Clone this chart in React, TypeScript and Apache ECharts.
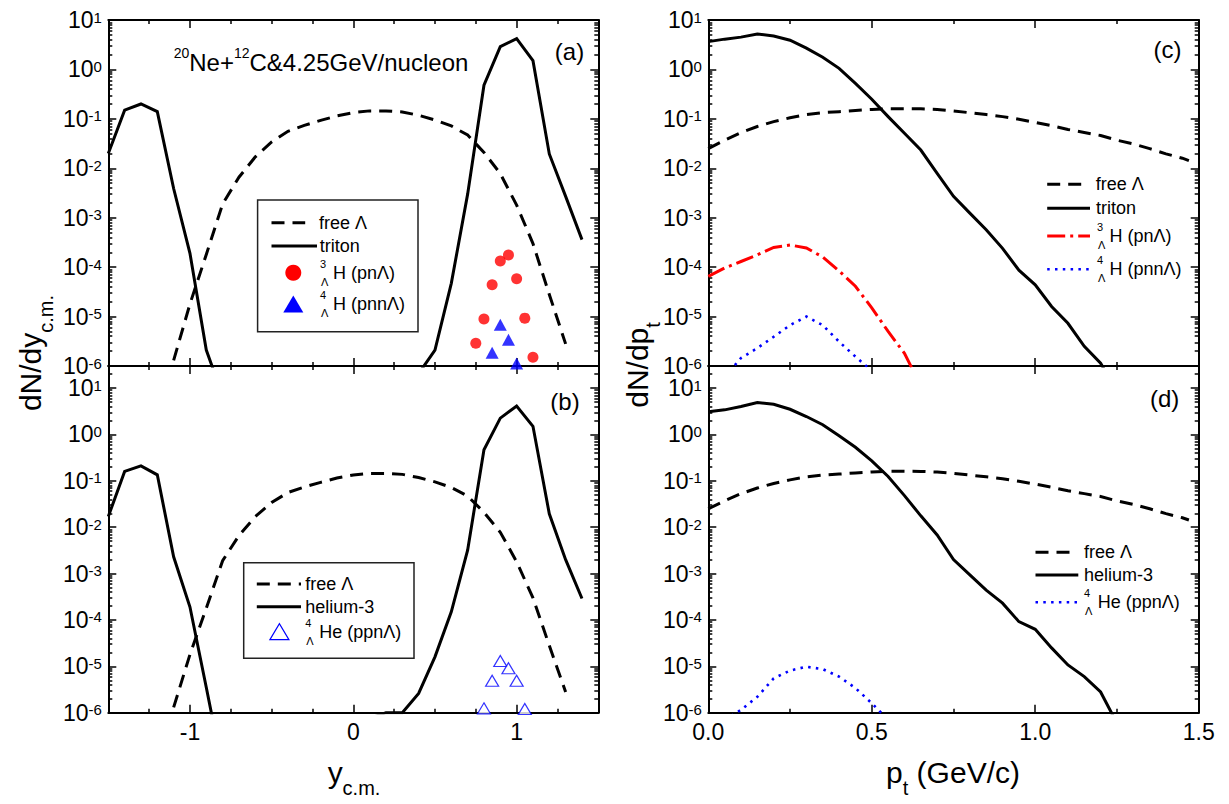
import { useEffect, useRef } from "react";
import * as echarts from "echarts";

const FONT = '"Liberation Sans", Arial, Helvetica, sans-serif';

// ---------- Panel (a)/(b): rapidity distributions ----------
const rapFreeLambda = [-1.1, -1.0, -0.9, -0.8, -0.7, -0.6, -0.5, -0.4, -0.3, -0.2, -0.1, 0, 0.1, 0.2, 0.3, 0.4, 0.5, 0.6, 0.7, 0.8, 0.9, 1.0, 1.1, 1.2, 1.3];
const dndyFreeLambda = [1.3e-6, 1.8e-5, 1.8e-4, 1.9e-3, 6.6e-3, 0.017, 0.034, 0.056, 0.074, 0.093, 0.115, 0.134, 0.145, 0.145, 0.138, 0.118, 0.095, 0.072, 0.047, 0.021, 0.0078, 1.8e-3, 3e-4, 2.8e-5, 2.8e-6];

const rapTriton = [-1.5, -1.4, -1.3, -1.2, -1.1, -1.0, -0.9, -0.8, 0.4, 0.5, 0.6, 0.7, 0.8, 0.9, 1.0, 1.1, 1.2, 1.3, 1.4];
const dndyTriton = [0.02, 0.15, 0.2, 0.14, 0.0039, 1.9e-4, 2.1e-6, 2.5e-7, 7e-7, 2.1e-6, 4.7e-5, 3e-3, 0.48, 2.9, 4.2, 1.5, 0.0195, 2.7e-3, 3.6e-4];

const rapHelium3 = [-1.5, -1.4, -1.3, -1.2, -1.1, -1.0, -0.9, -0.8, 0.2, 0.3, 0.4, 0.5, 0.6, 0.7, 0.8, 0.9, 1.0, 1.1, 1.2, 1.3, 1.4];
const dndyHelium3 = [0.017, 0.16, 0.21, 0.135, 2.3e-3, 1.9e-4, 3.5e-6, 6e-8, 1e-6, 1e-6, 2.6e-6, 1.6e-5, 1.5e-4, 3.2e-3, 0.47, 2.25, 4.1, 1.5, 0.0195, 2e-3, 2.9e-4];

const rapH3L = [0.75, 0.8, 0.85, 0.9, 0.95, 1.0, 1.05, 1.1];
const dndyH3L = [2.9e-6, 8.9e-6, 4.4e-5, 1.33e-4, 1.76e-4, 5.8e-5, 9.3e-6, 1.5e-6];
const rapH4L = [0.85, 0.9, 0.95, 1.0];
const dndyH4L = [1.85e-6, 6.8e-6, 3.4e-6, 1.13e-6];
const rapHe4L = [0.8, 0.85, 0.9, 0.95, 1.0, 1.05];
const dndyHe4L = [1.24e-6, 4.9e-6, 1.3e-5, 9.1e-6, 4.9e-6, 1.2e-6];

// ---------- Panel (c)/(d): transverse momentum distributions ----------
const ptFreeLambda = [0, 0.05, 0.1, 0.15, 0.2, 0.25, 0.3, 0.35, 0.4, 0.45, 0.5, 0.55, 0.6, 0.65, 0.7, 0.75, 0.8, 0.85, 0.9, 0.95, 1.0, 1.05, 1.1, 1.15, 1.2, 1.25, 1.3, 1.35, 1.4, 1.45, 1.47];
const dndptFreeLambda = [0.025, 0.037, 0.053, 0.07, 0.088, 0.105, 0.122, 0.134, 0.14, 0.148, 0.155, 0.161, 0.161, 0.16, 0.155, 0.145, 0.133, 0.122, 0.111, 0.098, 0.085, 0.073, 0.061, 0.053, 0.046, 0.037, 0.031, 0.025, 0.0196, 0.016, 0.0143];

const ptTriton = [0, 0.05, 0.1, 0.15, 0.2, 0.25, 0.3, 0.35, 0.4, 0.45, 0.5, 0.55, 0.6, 0.65, 0.7, 0.75, 0.8, 0.85, 0.9, 0.95, 1.0, 1.05, 1.1, 1.15, 1.2, 1.25];
const dndptTriton = [3.65, 4.1, 4.5, 5.2, 4.75, 3.9, 2.7, 1.76, 1.05, 0.52, 0.25, 0.111, 0.051, 0.0234, 0.0079, 2.7e-3, 1.24e-3, 5.7e-4, 2.4e-4, 8.7e-5, 4.4e-5, 1.6e-5, 7.3e-6, 2.5e-6, 1.14e-6, 3e-7];

const ptH3L = [0, 0.05, 0.1, 0.15, 0.2, 0.25, 0.3, 0.35, 0.4, 0.45, 0.5, 0.55, 0.6, 0.65];
const dndptH3L = [6.5e-5, 9.6e-5, 1.3e-4, 1.77e-4, 2.5e-4, 2.8e-4, 2.45e-4, 1.6e-4, 8.4e-5, 4.1e-5, 1.5e-5, 5e-6, 1.8e-6, 4e-7];

const ptH4L = [0.05, 0.1, 0.15, 0.2, 0.25, 0.3, 0.35, 0.4, 0.45, 0.5];
const dndptH4L = [6e-7, 1.45e-6, 2.3e-6, 3.9e-6, 6.7e-6, 1e-5, 6.7e-6, 3.1e-6, 1.55e-6, 8e-7];

const ptHelium3 = [0, 0.05, 0.1, 0.15, 0.2, 0.25, 0.3, 0.35, 0.4, 0.45, 0.5, 0.55, 0.6, 0.65, 0.7, 0.75, 0.8, 0.85, 0.9, 0.95, 1.0, 1.05, 1.1, 1.15, 1.2, 1.25];
const dndptHelium3 = [3.1, 3.4, 4.0, 4.9, 4.5, 3.5, 2.44, 1.62, 0.94, 0.53, 0.27, 0.124, 0.048, 0.0176, 6.8e-3, 2e-3, 9.4e-4, 4.4e-4, 2.3e-4, 9.2e-5, 6.3e-5, 2.5e-5, 1.07e-5, 6e-6, 2.8e-6, 5.9e-7];

const ptHe4L = [0.05, 0.1, 0.15, 0.2, 0.25, 0.3, 0.35, 0.4, 0.45, 0.5, 0.55];
const dndptHe4L = [7e-7, 1.15e-6, 2.2e-6, 5.5e-6, 8.1e-6, 9.8e-6, 8.7e-6, 6e-6, 3.4e-6, 1.6e-6, 7e-7];

// ---------- Tick values ----------
const yMajorTicks = [1e-6, 1e-5, 1e-4, 1e-3, 1e-2, 1e-1, 1, 10];
const rapMajorTicks = [-1, 0, 1];
const rapMinorTicks = [-1.25, -0.75, -0.5, -0.25, 0.25, 0.5, 0.75, 1.25];
const ptMajorTicks = [0, 0.5, 1.0, 1.5];
const ptMinorTicks = [0.25, 0.75, 1.25];

function yMinorTicks(max: number) {
  const out: number[] = [];
  [1e-6, 1e-5, 1e-4, 1e-3, 1e-2, 1e-1, 1].forEach((d) => {
    for (let m = 2; m <= 9; m++) out.push(m * d);
  });
  if (max > 20) out.push(20);
  return out;
}

const zip = (xs: number[], ys: number[]) => xs.map((x, i) => [x, ys[i]]);

const PANELS = [
  { left: 108.3, top: 20, width: 490, height: 346, xMin: -1.5, xMax: 1.5, yMax: 10, xMajor: rapMajorTicks, xMinor: rapMinorTicks, xLabels: false, fmt: (v: number) => String(v) },
  { left: 108.3, top: 366, width: 490, height: 346.7, xMin: -1.5, xMax: 1.5, yMax: 30, xMajor: rapMajorTicks, xMinor: rapMinorTicks, xLabels: true, fmt: (v: number) => String(v) },
  { left: 708.3, top: 20, width: 490.4, height: 346, xMin: 0, xMax: 1.5, yMax: 10, xMajor: ptMajorTicks, xMinor: ptMinorTicks, xLabels: false, fmt: (v: number) => v.toFixed(1) },
  { left: 708.3, top: 366, width: 490.4, height: 346.7, xMin: 0, xMax: 1.5, yMax: 30, xMajor: ptMajorTicks, xMinor: ptMinorTicks, xLabels: true, fmt: (v: number) => v.toFixed(1) },
];

const FRAME = { show: true, onZero: false, lineStyle: { color: "#000", width: 2 } };
const NOLINE = { show: false, onZero: false };
const TICK = { color: "#000", width: 1.5 };

const DASH = [13, 8];
const DOT = [2.5, 5.3];
const DASHDOT = [18, 5, 3, 5];

function buildOption() {
  const grid: any[] = [];
  const xAxis: any[] = [];
  const yAxis: any[] = [];
  PANELS.forEach((p, g) => {
    grid.push({ left: p.left, top: p.top, width: p.width, height: p.height, show: false });
    const xb = { type: "value", gridIndex: g, min: p.xMin, max: p.xMax, splitLine: { show: false } };
    xAxis.push({
      ...xb, position: "bottom", axisLine: FRAME,
      axisTick: { show: true, inside: true, length: 8, customValues: p.xMajor, lineStyle: TICK },
      axisLabel: { show: p.xLabels, customValues: p.xMajor, formatter: p.fmt, margin: 8, fontSize: 23, color: "#000", fontFamily: FONT },
    });
    xAxis.push({ ...xb, position: "bottom", axisLine: NOLINE, axisTick: { show: true, inside: true, length: 4, customValues: p.xMinor, lineStyle: TICK }, axisLabel: { show: false } });
    xAxis.push({ ...xb, position: "top", axisLine: FRAME, axisTick: { show: true, inside: true, length: 8, customValues: p.xMajor, lineStyle: TICK }, axisLabel: { show: false } });
    xAxis.push({ ...xb, position: "top", axisLine: NOLINE, axisTick: { show: true, inside: true, length: 4, customValues: p.xMinor, lineStyle: TICK }, axisLabel: { show: false } });

    const yb = { type: "log", logBase: 10, gridIndex: g, min: 1e-6, max: p.yMax, splitLine: { show: false } };
    const minor = yMinorTicks(p.yMax);
    yAxis.push({
      ...yb, position: "left", axisLine: FRAME,
      axisTick: { show: true, inside: true, length: 8, customValues: yMajorTicks, lineStyle: TICK },
      axisLabel: {
        show: true, customValues: yMajorTicks, margin: 6.5, color: "#000", fontFamily: FONT,
        formatter: (v: number) => `{b|10}{e|${Math.round(Math.log10(v))}}`,
        rich: {
          b: { fontSize: 23, lineHeight: 21, fontFamily: FONT, color: "#000" },
          e: { fontSize: 15, lineHeight: 8, verticalAlign: "top", fontFamily: FONT, color: "#000" },
        },
      },
    });
    yAxis.push({ ...yb, position: "left", axisLine: NOLINE, axisTick: { show: true, inside: true, length: 4, customValues: minor, lineStyle: TICK }, axisLabel: { show: false } });
    yAxis.push({ ...yb, position: "right", axisLine: FRAME, axisTick: { show: true, inside: true, length: 8, customValues: yMajorTicks, lineStyle: TICK }, axisLabel: { show: false } });
    yAxis.push({ ...yb, position: "right", axisLine: NOLINE, axisTick: { show: true, inside: true, length: 4, customValues: minor, lineStyle: TICK }, axisLabel: { show: false } });
  });

  const line = (g: number, name: string, xs: number[], ys: number[], color: string, type: any, width = 3) => ({
    type: "line", name, xAxisIndex: 4 * g, yAxisIndex: 4 * g, data: zip(xs, ys),
    showSymbol: false, symbol: "none", silent: true, clip: true, z: 3,
    lineStyle: { color, width, type, cap: "butt", join: "miter" },
  });
  const scatter = (g: number, name: string, xs: number[], ys: number[], symbol: string, size: any, itemStyle: any) => ({
    type: "scatter", name, xAxisIndex: 4 * g, yAxisIndex: 4 * g, data: zip(xs, ys),
    symbol, symbolSize: size, itemStyle, silent: true, z: 4,
  });

  const series = [
    line(0, "free Λ", rapFreeLambda, dndyFreeLambda, "#000", DASH),
    line(0, "triton", rapTriton, dndyTriton, "#000", "solid"),
    scatter(0, "3ΛH", rapH3L, dndyH3L, "circle", 11, { color: "#ff0000" }),
    scatter(0, "4ΛH", rapH4L, dndyH4L, "triangle", [13, 12], { color: "#0000ff" }),
    line(1, "free Λ", rapFreeLambda, dndyFreeLambda, "#000", DASH),
    line(1, "helium-3", rapHelium3, dndyHelium3, "#000", "solid"),
    scatter(1, "4ΛHe", rapHe4L, dndyHe4L, "triangle", [13, 11], { color: "#ffffff", borderColor: "#0000ff", borderWidth: 1.2 }),
    line(2, "free Λ", ptFreeLambda, dndptFreeLambda, "#000", DASH),
    line(2, "triton", ptTriton, dndptTriton, "#000", "solid"),
    line(2, "3ΛH", ptH3L, dndptH3L, "#ff0000", DASHDOT),
    line(2, "4ΛH", ptH4L, dndptH4L, "#0000ff", DOT, 2.6),
    line(3, "free Λ", ptFreeLambda, dndptFreeLambda, "#000", DASH),
    line(3, "helium-3", ptHelium3, dndptHelium3, "#000", "solid"),
    line(3, "4ΛHe", ptHe4L, dndptHe4L, "#0000ff", DOT, 2.6),
  ];

  // ---------- graphic: texts and legends ----------
  const T = (x: number, y: number, text: string, size = 18, align = "left", extra: any = {}) => ({
    type: "text", x, y, silent: true, z: 10,
    style: { text, fontSize: size, fontFamily: FONT, fill: "#000", align, verticalAlign: "middle", textAlign: align, textVerticalAlign: "middle", ...extra },
  });
  const L = (x1: number, x2: number, y: number, color: string, dash: any, width = 3) => ({
    type: "line", silent: true, z: 10,
    shape: { x1, y1: y, x2, y2: y },
    style: { stroke: color, lineWidth: width, lineDash: dash, lineCap: "butt" },
  });
  const nuclide = (x: number, y: number, sup: string, main: string, mainDx = 13) => [
    T(x, y - 9, sup, 11),
    T(x + 1, y + 9, "Λ", 11),
    T(x + mainDx, y, main, 18),
  ];
  const titleRich = {
    m: { fontSize: 30, lineHeight: 52, fontFamily: FONT, fill: "#000" },
    s: { fontSize: 20, lineHeight: 20, verticalAlign: "bottom", fontFamily: FONT, fill: "#000" },
  };

  const graphic: any[] = [
    // title in (a)
    {
      type: "text", x: 321, y: 62, silent: true, z: 10,
      style: {
        text: "{s|20}{n|Ne+}{s|12}{n|C&4.25GeV/nucleon}",
        align: "center", verticalAlign: "middle",
        rich: {
          n: { fontSize: 24, lineHeight: 32, fontFamily: FONT, fill: "#000" },
          s: { fontSize: 14, lineHeight: 14, verticalAlign: "top", fontFamily: FONT, fill: "#000" },
        },
      },
    },
    T(569.5, 51.3, "(a)", 24, "center"),
    T(565, 401, "(b)", 24, "center"),
    T(1167.6, 49, "(c)", 24, "center"),
    T(1164.6, 398, "(d)", 24, "center"),

    // legend (a)
    { type: "rect", silent: true, z: 9, shape: { x: 257.6, y: 200, width: 160.4, height: 131.7 }, style: { fill: "#fff", stroke: "#222", lineWidth: 1.5 } },
    L(271.5, 305.2, 222.7, "#000", DASH),
    T(319, 222.7, "free Λ"),
    L(271.5, 317, 246, "#000", null),
    T(319.8, 246, "triton"),
    { type: "circle", silent: true, z: 10, shape: { cx: 293.3, cy: 272.7, r: 8 }, style: { fill: "#ff0000" } },
    ...nuclide(320, 272.7, "3", "H (pnΛ)"),
    { type: "polygon", silent: true, z: 10, shape: { points: [[283.3, 312.5], [303.3, 312.5], [293.3, 295.5]] }, style: { fill: "#0000ff" } },
    ...nuclide(320, 304, "4", "H (pnnΛ)"),

    // legend (b)
    { type: "rect", silent: true, z: 9, shape: { x: 243.7, y: 562.7, width: 170.3, height: 95.6 }, style: { fill: "#fff", stroke: "#222", lineWidth: 1.5 } },
    L(256.8, 301, 584, "#000", DASH),
    T(305.2, 584, "free Λ"),
    L(256.8, 301, 606.7, "#000", null),
    T(305.2, 606.7, "helium-3"),
    { type: "polygon", silent: true, z: 10, shape: { points: [[269.9, 639.7], [288.9, 639.7], [279.4, 623.7]] }, style: { fill: "none", stroke: "#0000ff", lineWidth: 1.2 } },
    ...nuclide(305.2, 631.7, "4", "He (ppnΛ)", 14),

    // legend (c)
    L(1047.2, 1082.2, 184.3, "#000", DASH),
    T(1095.8, 184.3, "free Λ"),
    L(1047.2, 1090, 208.3, "#000", null),
    T(1096, 208.3, "triton"),
    L(1047.2, 1090, 236, "#ff0000", DASHDOT),
    ...nuclide(1097, 236, "3", "H (pnΛ)", 12.4),
    L(1047.2, 1090, 269.3, "#0000ff", DOT, 2.6),
    ...nuclide(1097, 269.3, "4", "H (pnnΛ)", 12.4),

    // legend (d)
    L(1035.5, 1070.5, 552.3, "#000", DASH),
    T(1084, 552.3, "free Λ"),
    L(1035.5, 1078.3, 575, "#000", null),
    T(1084, 575, "helium-3"),
    L(1035.5, 1078.3, 602.3, "#0000ff", DOT, 2.6),
    ...nuclide(1084, 602.3, "4", "He (ppnΛ)", 13.7),

    // axis titles
    { type: "text", x: 30, y: 353, rotation: Math.PI / 2, silent: true, z: 10, style: { text: "{m|dN/dy}{s|c.m.}", align: "center", verticalAlign: "middle", rich: titleRich } },
    { type: "text", x: 637, y: 365, rotation: Math.PI / 2, silent: true, z: 10, style: { text: "{m|dN/dp}{s|t}", align: "center", verticalAlign: "middle", rich: titleRich } },
    { type: "text", x: 354, y: 772, silent: true, z: 10, style: { text: "{m|y}{s|c.m.}", align: "center", verticalAlign: "middle", rich: titleRich } },
    { type: "text", x: 953, y: 772, silent: true, z: 10, style: { text: "{m|p}{s|t}{m| (GeV/c)}", align: "center", verticalAlign: "middle", rich: titleRich } },
  ];

  return {
    animation: false,
    backgroundColor: "#fff",
    textStyle: { fontFamily: FONT },
    grid, xAxis, yAxis, series, graphic,
  };
}

export default function App() {
  const ref = useRef<HTMLDivElement>(null);
  useEffect(() => {
    if (!ref.current) return;
    const chart = echarts.init(ref.current, undefined, { renderer: "svg" });
    chart.setOption(buildOption() as any);
    return () => chart.dispose();
  }, []);
  return <div ref={ref} style={{ position: "absolute", left: 0, top: 0, width: 1229, height: 804, background: "#fff" }} />;
}
